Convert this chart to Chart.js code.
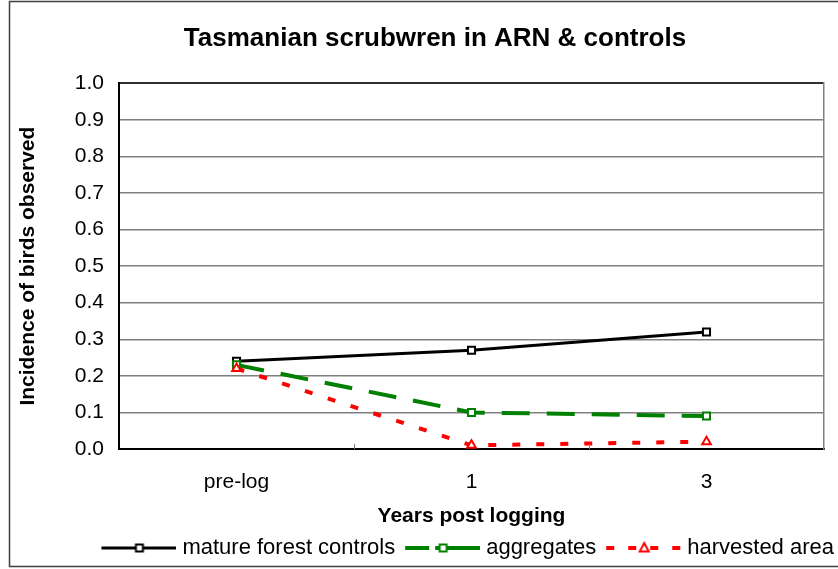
<!DOCTYPE html>
<html>
<head>
<meta charset="utf-8">
<script src="https://cdn.jsdelivr.net/npm/chart.js@4.4.1/dist/chart.umd.min.js"></script>
<style>
  html, body { margin: 0; padding: 0; background: #fff; }
  #wrap { width: 838px; height: 569px; }
</style>
</head>
<body>
<div id="wrap"><canvas id="chart"></canvas></div>
<script>
const categories = ['pre-log', '1', '3'];
const matureControls = [0.24, 0.27, 0.32];
const aggregates = [0.23, 0.10, 0.09];
const harvestedArea = [0.22, 0.01, 0.02];
const seriesNames = ['mature forest controls', 'aggregates', 'harvested area'];

const FONT = "'Liberation Sans', Arial, sans-serif";

// legend sample: a line with the marker in the middle, drawn at the right
// end of a slightly wider canvas so the text sits close to it
function legendSample(color, dash, width, marker) {
  const c = document.createElement('canvas');
  c.width = 85;
  c.height = 14;
  const ctx = c.getContext('2d');
  ctx.strokeStyle = color;
  ctx.lineWidth = width;
  ctx.setLineDash(dash);
  ctx.beginPath();
  ctx.moveTo(10, 7);
  ctx.lineTo(85, 7);
  ctx.stroke();
  ctx.setLineDash([]);
  ctx.lineWidth = 2;
  ctx.fillStyle = '#fff';
  ctx.beginPath();
  if (marker === 'triangle') {
    ctx.moveTo(48, 2);
    ctx.lineTo(52.5, 10.5);
    ctx.lineTo(43.5, 10.5);
    ctx.closePath();
  } else {
    ctx.rect(44.5, 3.5, 7, 7);
  }
  ctx.fill();
  ctx.stroke();
  return c;
}

const samples = [
  legendSample('#000', [], 3, 'rect'),
  legendSample('#008000', [24, 6, 60], 4, 'rect'),
  legendSample('#ff0000', [8, 14], 4, 'triangle')
];

const frame = {
  id: 'frame',
  beforeDraw(chart) {
    const ctx = chart.ctx;
    ctx.save();
    ctx.fillStyle = '#fff';
    ctx.fillRect(0, 0, chart.width, chart.height);
    ctx.restore();
  },
  afterDraw(chart) {
    const ctx = chart.ctx;
    const x = chart.scales.x;
    const area = chart.chartArea;
    ctx.save();
    // outer chart border
    ctx.strokeStyle = '#404040';
    ctx.lineWidth = 1.5;
    ctx.strokeRect(9.5, 1.5, chart.width + 10, 565);
    // small inward tick marks between categories
    ctx.strokeStyle = '#808080';
    ctx.lineWidth = 1;
    for (let i = 0; i < categories.length - 1; i++) {
      const px = Math.round((x.getPixelForValue(i) + x.getPixelForValue(i + 1)) / 2) + 0.5;
      ctx.beginPath();
      ctx.moveTo(px, area.bottom);
      ctx.lineTo(px, area.bottom - 5);
      ctx.stroke();
    }
    ctx.restore();
  }
};

new Chart(document.getElementById('chart'), {
  type: 'line',
  data: {
    labels: categories,
    datasets: [
      {
        label: seriesNames[0],
        data: matureControls,
        borderColor: '#000',
        borderWidth: 3,
        pointStyle: 'rect',
        pointRadius: 5,
        pointBorderWidth: 2,
        pointBackgroundColor: '#fff',
        pointBorderColor: '#000',
        order: 3
      },
      {
        label: seriesNames[1],
        data: aggregates,
        borderColor: '#008000',
        borderWidth: 4,
        borderDash: [28, 17],
        pointStyle: 'rect',
        pointRadius: 5,
        pointBorderWidth: 2,
        pointBackgroundColor: '#fff',
        pointBorderColor: '#008000',
        order: 2
      },
      {
        label: seriesNames[2],
        data: harvestedArea,
        borderColor: '#ff0000',
        borderWidth: 4,
        borderDash: [8, 16],
        pointStyle: 'triangle',
        pointRadius: 5,
        pointBorderWidth: 2,
        pointBackgroundColor: '#fff',
        pointBorderColor: '#ff0000',
        order: 1
      }
    ]
  },
  options: {
    responsive: true,
    maintainAspectRatio: false,
    animation: false,
    devicePixelRatio: 1,
    layout: { padding: { left: 31, right: -1, top: 0, bottom: 0 } },
    elements: { line: { tension: 0 } },
    plugins: {
      tooltip: { enabled: false },
      title: {
        display: true,
        text: 'Tasmanian scrubwren in ARN & controls',
        color: '#000',
        font: { family: FONT, size: 26, weight: 'bold' },
        padding: { top: 23, bottom: 29 }
      },
      legend: {
        position: 'bottom',
        align: 'end',
        labels: {
          color: '#000',
          font: { family: FONT, size: 22 },
          usePointStyle: true,
          pointStyleWidth: 75,
          padding: 5,
          generateLabels: chart => chart.data.datasets.map((ds, i) => ({
            text: ds.label,
            pointStyle: samples[i],
            fillStyle: ds.borderColor,
            strokeStyle: ds.borderColor,
            lineWidth: 0,
            hidden: false,
            datasetIndex: i
          }))
        }
      }
    },
    scales: {
      x: {
        offset: true,
        grid: { display: false, drawTicks: false },
        border: { display: true, color: '#000', width: 2 },
        ticks: { color: '#000', font: { family: FONT, size: 21 }, padding: 21 },
        title: {
          display: true,
          text: 'Years post logging',
          color: '#000',
          font: { family: FONT, size: 21, weight: 'bold' },
          padding: { top: 0, bottom: 3 }
        },
        afterFit: s => { s.height = 83; }
      },
      y: {
        min: 0,
        max: 1,
        grid: {
          drawTicks: false,
          color: c => (c.tick && c.tick.value === 1 ? '#303030' : '#808080'),
          lineWidth: c => (c.tick && c.tick.value === 1 ? 2 : 1.5)
        },
        border: { display: true, color: '#000', width: 2 },
        ticks: {
          stepSize: 0.1,
          color: '#000',
          padding: 15,
          font: { family: FONT, size: 21 },
          callback: v => Number(v).toFixed(1)
        },
        title: {
          display: true,
          text: 'Incidence of birds observed',
          color: '#000',
          font: { family: FONT, size: 21, weight: 'bold' },
          padding: { top: -15, bottom: 0 }
        },
        afterFit: s => { s.width = 88; }
      },
      yRight: {
        position: 'right',
        grid: { display: false, drawTicks: false },
        border: { display: true, color: '#808080', width: 1.5 },
        ticks: { display: false },
        afterFit: s => { s.width = 15; }
      }
    }
  },
  plugins: [frame]
});
</script>
</body>
</html>
